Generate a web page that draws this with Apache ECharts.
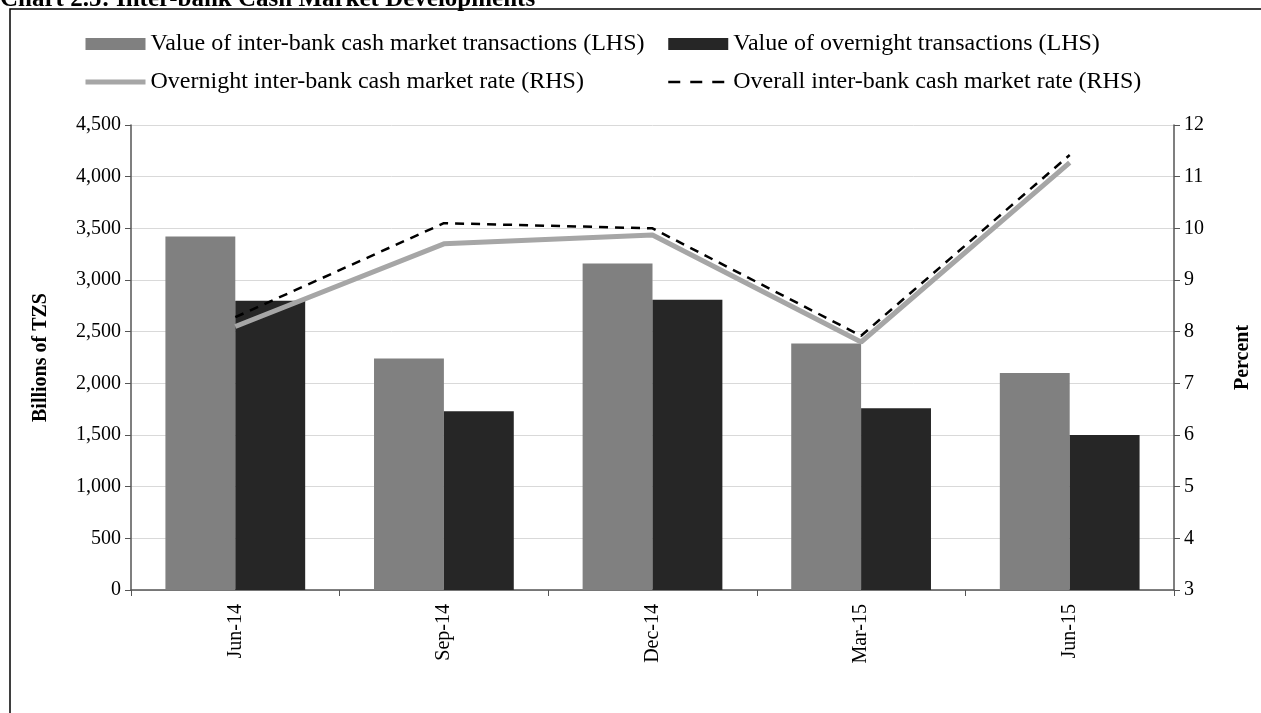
<!DOCTYPE html>
<html><head><meta charset="utf-8">
<script src="https://cdn.jsdelivr.net/npm/echarts@6/dist/echarts.min.js"></script>
<style>html,body{margin:0;padding:0;background:#fff}#c{width:1261px;height:713px}</style>
</head><body><div id="c"></div>
<script>
const categories = ['Jun-14','Sep-14','Dec-14','Mar-15','Jun-15'];
const interbankValue = [3420, 2240, 3160, 2385, 2100];
const overnightValue = [2800, 1730, 2810, 1760, 1500];
const overnightRate = [8.1, 9.7, 9.87, 7.8, 11.27];
const overallRate = [8.28, 10.1, 10.0, 7.92, 11.42];
const leftTicks = {min: 0, max: 4500, interval: 500};
const rightTicks = {min: 3, max: 12, interval: 1};
const names = [
  'Value of inter-bank cash market transactions (LHS)',
  'Value of overnight transactions (LHS)',
  'Overnight inter-bank cash market rate (RHS)',
  'Overall inter-bank cash market rate (RHS)'
];
const FONT = '"Liberation Serif", "Times New Roman", serif';
const chart = echarts.init(document.getElementById('c'), null, {renderer: 'canvas'});
const legendText = {fontFamily: FONT, fontSize: 24, color: '#000'};
const legendCommon = {orient: 'vertical', top: 32, padding: 0, itemWidth: 60, itemHeight: 12, itemGap: 14, itemTextGap: 5, textStyle: legendText};
chart.setOption({
  animation: false,
  textStyle: {fontFamily: FONT},
  graphic: [
    {type: 'rect', shape: {x: 10, y: 9, width: 1400, height: 900}, style: {fill: 'none', stroke: '#000', lineWidth: 1.5}, z: -1},
    {type: 'text', style: {text: 'Chart 2.5: Inter-bank Cash Market Developments', x: 0, y: -13, font: 'bold 25px "Liberation Serif", serif', fill: '#000', verticalAlign: 'top'}}
  ],
  legend: [
    Object.assign({}, legendCommon, {left: 83, data: [
      {name: names[0], icon: 'rect'},
      {name: names[2], itemStyle: {opacity: 0}, lineStyle: {width: 5, color: '#a6a6a6'}}
    ]}),
    Object.assign({}, legendCommon, {left: 667, data: [
      {name: names[1], icon: 'rect'},
      {name: names[3], itemStyle: {opacity: 0}, lineStyle: {width: 2.5, color: '#000', type: [12, 10]}}
    ]})
  ],
  grid: {left: 131, right: 86, top: 125, bottom: 123},
  xAxis: {
    type: 'category', data: categories,
    axisLine: {lineStyle: {color: '#555', width: 1.5}},
    axisTick: {show: true, alignWithLabel: false, length: 6, lineStyle: {color: '#555'}},
    axisLabel: {rotate: 90, color: '#000', fontSize: 20, fontFamily: FONT, margin: 14}
  },
  yAxis: [
    {type: 'value', min: leftTicks.min, max: leftTicks.max, interval: leftTicks.interval,
     name: 'Billions of TZS', nameLocation: 'middle', nameGap: 80, nameRotate: 90,
     nameTextStyle: {fontFamily: FONT, fontSize: 20, fontWeight: 'bold', color: '#000'},
     axisLine: {show: true, lineStyle: {color: '#555', width: 1.5}},
     axisTick: {show: true, length: 6, lineStyle: {color: '#555'}},
     axisLabel: {color: '#000', fontSize: 20, fontFamily: FONT, margin: 10,
       formatter: v => v.toLocaleString('en-US')},
     splitLine: {lineStyle: {color: '#d9d9d9', width: 1}}},
    {type: 'value', min: rightTicks.min, max: rightTicks.max, interval: rightTicks.interval, position: 'right',
     name: 'Percent', nameLocation: 'middle', nameGap: 59, nameRotate: 90,
     nameTextStyle: {fontFamily: FONT, fontSize: 20, fontWeight: 'bold', color: '#000'},
     axisLine: {show: true, lineStyle: {color: '#555', width: 1.5}},
     axisTick: {show: true, length: 6, lineStyle: {color: '#555'}},
     axisLabel: {color: '#000', fontSize: 20, fontFamily: FONT, margin: 10},
     splitLine: {show: false}}
  ],
  series: [
    {name: names[0], type: 'bar', data: interbankValue, yAxisIndex: 0, barGap: '0%', barCategoryGap: '33%', itemStyle: {color: '#808080'}},
    {name: names[1], type: 'bar', data: overnightValue, yAxisIndex: 0, barGap: '0%', barCategoryGap: '33%', itemStyle: {color: '#262626'}},
    {name: names[2], type: 'line', data: overnightRate, yAxisIndex: 1, symbol: 'none', lineStyle: {color: '#a6a6a6', width: 5}, itemStyle: {color: '#a6a6a6'}, z: 3},
    {name: names[3], type: 'line', data: overallRate, yAxisIndex: 1, symbol: 'none', lineStyle: {color: '#000', width: 2.5, type: [9, 7]}, itemStyle: {color: '#000'}, z: 4}
  ]
});
</script></body></html>
